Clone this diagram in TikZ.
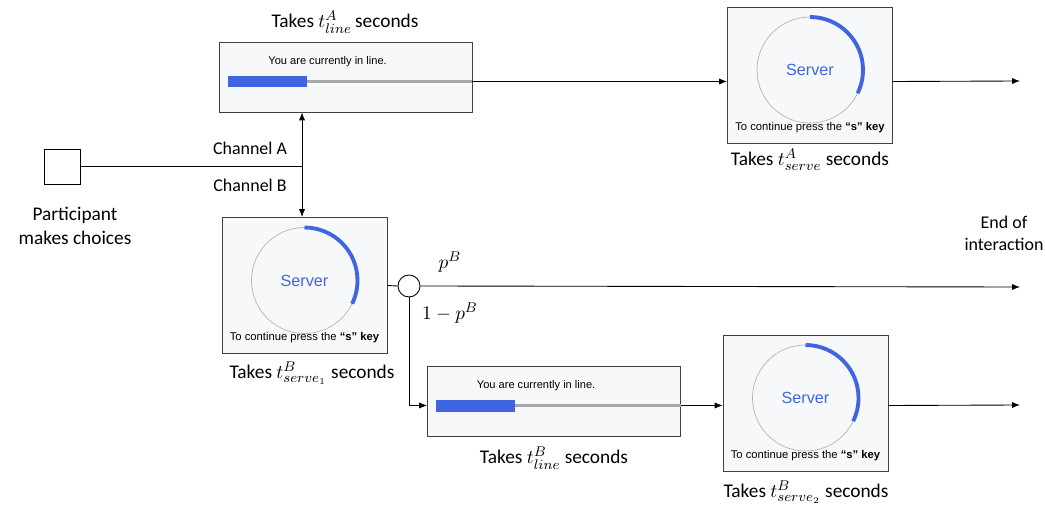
\documentclass[tikz,border=0pt]{standalone}
\usepackage{fontspec}
\setmainfont{Carlito}
\newfontfamily\uifont{Liberation Sans}
\usetikzlibrary{arrows.meta, positioning, calc}
\definecolor{screenbg}{HTML}{F7F8FA}
\definecolor{serverblue}{HTML}{3F66E0}
\definecolor{ringgray}{HTML}{B4B4B4}
\definecolor{bargray}{HTML}{A8A8A8}
\tikzset{
  screen/.style={draw=black!75, fill=screenbg, line width=0.45pt, inner sep=0pt},
  serverscreen/.style={screen, minimum width=3.3cm, minimum height=2.72cm},
  linescreen/.style={screen, minimum width=5.06cm, minimum height=1.4cm},
  flow/.style={-{Latex[length=4.5pt,width=3.5pt]}, line width=0.5pt},
  caption/.style={font=\fontsize{11}{13.5}\selectfont, align=center},
  smalllabel/.style={font=\fontsize{10.2}{12.5}\selectfont, align=center},
}
% server screen: ring, progress arc, key hint
\newcommand{\serverface}[1]{%
  \draw[ringgray, line width=0.4pt] ($(#1.center)+(0,0.1)$) circle (1.06);
  \draw[serverblue, line width=2.2pt] ($(#1.center)+(0,0.1)+(90:1.06)$) arc (90:-26:1.06);
  \node[text=serverblue, font=\uifont\fontsize{9.2}{11}\selectfont] at ($(#1.center)+(0,0.1)$) {Server};
  \node[font=\uifont\fontsize{6.4}{7.5}\selectfont, above=0.09cm] at (#1.south) {To continue press the \textbf{“s” key}};
}
% queue screen: message and progress bar
\newcommand{\queuebar}[1]{%
  \node[font=\uifont\fontsize{6.3}{7.5}\selectfont, below=0.17cm] at ($(#1.north west)+(2.18,0)$) {You are currently in line.};
  \draw[bargray, line width=2pt] ($(#1.west)+(1.76,-0.09)$) -- ($(#1.east)+(0,-0.09)$);
  \fill[serverblue] ($(#1.west)+(0.18,-0.21)$) rectangle ++(1.58,0.23);
}

\begin{document}
\begin{tikzpicture}
  \useasboundingbox (0,0) rectangle (20.9,-10.14);

  % participant and channel split
  \node[draw, line width=0.5pt, minimum width=0.72cm, minimum height=0.7cm] (participant) at (1.24,-3.33) {};
  \node[caption] (partlabel) at (1.5,-4.52) {Participant\\makes choices};
  \coordinate (split) at (6.04,-3.33);
  \node[smalllabel] (chanA) at (5.0,-2.96) {Channel A};
  \node[smalllabel] (chanB) at (5.0,-3.7) {Channel B};

  % channel A
  \node[linescreen] (lineA) at (6.91,-1.54) {};
  \queuebar{lineA}
  \node[caption] (lineAcap) at (6.9,-0.44) {Takes $t^{A}_{line}$\,seconds};
  \node[serverscreen] (serverA) at (16.2,-1.5) {};
  \serverface{serverA}
  \node[caption] (serverAcap) at (16.2,-3.2) {Takes $t^{A}_{serve}$ seconds};
  \coordinate (endA) at (20.4,-1.62);

  % channel B
  \node[serverscreen] (serverB1) at (6.09,-5.71) {};
  \serverface{serverB1}
  \node[caption] (serverB1cap) at (6.24,-7.46) {Takes $t^{B}_{serve_1}$ seconds};
  \node[draw, circle, line width=0.5pt, minimum size=0.44cm, inner sep=0pt] (choice) at (8.18,-5.72) {};
  \node[caption] (pB) at (9.0,-5.24) {$p^{B}$};
  \node[caption] (qB) at (9.0,-6.26) {$1-p^{B}$};
  \coordinate (endB) at (20.4,-5.74);
  \node[smalllabel] (endlabel) at (20.08,-4.66) {End of\\interaction};
  \node[linescreen] (lineB) at (11.08,-8.02) {};
  \queuebar{lineB}
  \node[caption] (lineBcap) at (11.08,-9.16) {Takes $t^{B}_{line}$ seconds};
  \node[serverscreen] (serverB2) at (16.11,-8.06) {};
  \serverface{serverB2}
  \node[caption] (serverB2cap) at (16.12,-9.84) {Takes $t^{B}_{serve_2}$ seconds};
  \coordinate (endC) at (20.4,-8.1);

  % connectors
  \draw[line width=0.5pt] (participant.east) -- (split);
  \draw[flow] (split) -- (split |- lineA.south);
  \draw[flow] (split) -- (split |- serverB1.north);
  \draw[flow] ([yshift=-0.09cm]lineA.east) -- ([yshift=-0.09cm]lineA.east -| serverA.west);
  \draw[flow] ([yshift=-0.09cm]lineA.east -| serverA.east) -- (endA);
  \draw[line width=0.5pt] (serverB1.east) -- (choice.west);
  \draw[flow] (choice.east) -- (endB);
  \draw[flow] (choice.south) |- ([yshift=-0.09cm]lineB.west);
  \draw[flow] ([yshift=-0.09cm]lineB.east) -- ([yshift=-0.09cm]lineB.east -| serverB2.west);
  \draw[flow] ([yshift=-0.09cm]lineB.east -| serverB2.east) -- (endC);
\end{tikzpicture}
\end{document}
